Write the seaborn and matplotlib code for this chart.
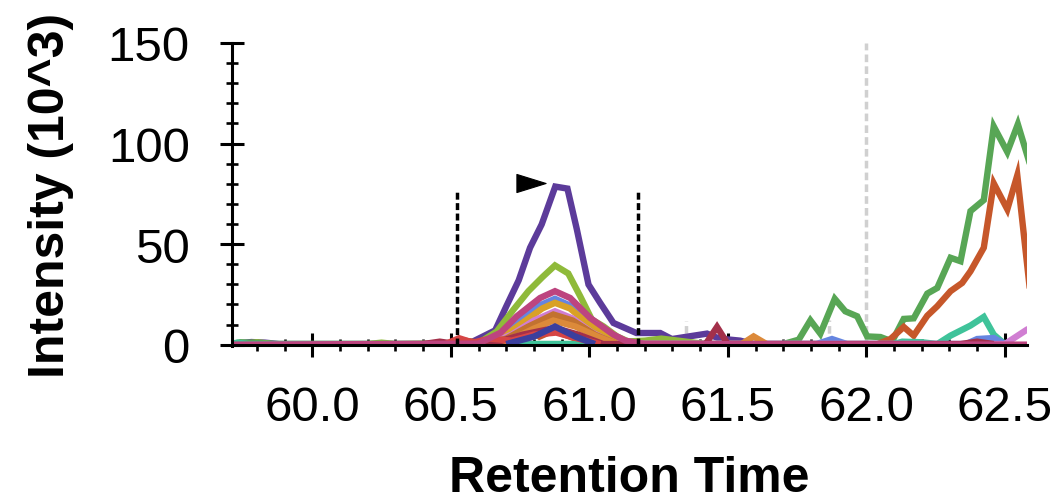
import numpy as np
import pandas as pd
import matplotlib
matplotlib.use("Agg")
import matplotlib.pyplot as plt
import seaborn as sns
from matplotlib.path import Path
from matplotlib.transforms import ScaledTranslation
from matplotlib.ticker import MultipleLocator, FormatStrFormatter

# ---------------- data (retention time in min, intensity in 10^3) ----------------
purple_t = [59.71, 59.78, 59.83, 59.88, 60.52, 60.58, 60.66, 60.70, 60.745, 60.786, 60.828, 60.877,
            60.921, 60.955, 60.997, 61.039, 61.087, 61.17, 61.256, 61.298, 61.425, 61.47, 61.545, 61.59]
purple_v = [0.3, 1.3, 1.0, 0.3, 0.3, 1.6, 7.1, 19.0, 32.0, 48.2, 59.8, 78.6,
            77.6, 57.3, 29.9, 20.8, 10.8, 5.8, 5.8, 2.8, 5.5, 3.0, 2.0, 0.3]

ygreen_t = [59.74, 59.80, 59.86, 60.20, 60.25, 60.30, 60.60, 60.666, 60.726, 60.78, 60.83, 60.876,
            60.924, 60.967, 61.009, 61.051, 61.10, 61.14, 61.20, 61.26, 61.32, 61.42]
ygreen_v = [0.3, 1.2, 0.3, 0.3, 1.0, 0.3, 0.8, 6.6, 17.4, 26.6, 33.5, 39.4,
            35.4, 24.1, 12.5, 9.1, 4.1, 1.6, 2.0, 3.0, 2.0, 0.3]

blue_t = [60.58, 60.66, 60.74, 60.82, 60.876, 60.93, 61.00, 61.08, 61.14, 61.82, 61.876, 61.93,
          62.36, 62.40, 62.46, 62.50]
blue_v = [0.3, 3.5, 11.0, 19.5, 22.8, 19.5, 10.0, 3.5, 0.3, 0.3, 2.8, 0.3,
          0.3, 2.8, 3.3, 0.3]

gold_t = [60.62, 60.70, 60.76, 60.83, 60.876, 60.93, 61.00, 61.08, 61.14]
gold_v = [0.3, 5.0, 11.0, 18.0, 20.8, 18.0, 10.0, 3.0, 0.3]

orchid_t = [60.64, 60.72, 60.80, 60.876, 60.94, 61.01, 61.09, 62.50, 62.58, 62.62]
orchid_v = [0.3, 5.0, 12.0, 16.6, 13.0, 6.0, 0.5, 0.3, 7.5, 10.0]

brown_t = [60.62, 60.70, 60.78, 60.87, 60.94, 61.02, 61.10]
brown_v = [0.3, 3.0, 9.0, 15.0, 12.0, 5.0, 0.3]

orange_t = [60.66, 60.74, 60.80, 60.87, 60.95, 61.03, 61.10, 61.55, 61.593, 61.64]
orange_v = [0.3, 4.0, 8.0, 12.0, 9.0, 4.0, 0.3, 0.3, 4.1, 0.3]

ored_t = [60.50, 60.55, 60.60, 60.70, 60.78, 60.82, 60.87, 60.93, 61.00, 62.04, 62.087, 62.135,
          62.171, 62.22, 62.256, 62.304, 62.346, 62.376, 62.424, 62.46, 62.509, 62.545, 62.59]
ored_v = [0.3, 2.0, 1.0, 4.0, 8.5, 4.0, 7.0, 4.0, 0.3, 0.3, 2.8, 8.8,
          4.5, 14.4, 19.1, 26.6, 30.7, 36.5, 48.2, 80.2, 67.3, 84.2, 28.0]

green_t = [59.71, 59.74, 59.80, 59.86, 61.70, 61.756, 61.798, 61.834, 61.886, 61.924, 61.967, 62.003,
           62.051, 62.093, 62.135, 62.171, 62.22, 62.256, 62.304, 62.34, 62.376, 62.424, 62.46,
           62.509, 62.547, 62.59]
green_v = [0.3, 1.2, 0.8, 0.3, 0.3, 2.5, 12.1, 5.5, 22.8, 16.6, 14.1, 4.1,
           3.8, 1.6, 12.8, 13.1, 25.4, 28.2, 43.2, 41.5, 66.4, 71.9, 108.5,
           95.8, 109.6, 90.0]

teal_t = [59.70, 59.73, 59.77, 62.10, 62.13, 62.20, 62.256, 62.304, 62.376, 62.424, 62.46, 62.50]
teal_v = [0.3, 1.0, 0.3, 0.3, 1.5, 1.2, 0.3, 4.5, 9.5, 13.8, 5.0, 0.3]

dred_t = [60.40, 60.46, 60.52, 60.66, 60.76, 60.876, 60.96, 61.05, 61.42, 61.461, 61.50, 62.34, 62.40, 62.46]
dred_v = [0.3, 1.5, 0.3, 1.0, 5.0, 8.3, 5.0, 0.3, 0.3, 8.8, 0.3, 0.3, 1.5, 0.3]

red_t = [60.48, 60.53, 60.58, 60.64, 60.72, 60.80, 60.88, 60.96, 61.04]
red_v = [0.3, 3.2, 1.0, 3.0, 2.0, 5.0, 6.0, 3.0, 0.3]

indigo_t = [60.70, 60.80, 60.876, 60.95, 61.02]
indigo_v = [0.3, 4.0, 9.0, 4.0, 0.3]

magenta_t = [59.70, 60.60, 60.68, 60.738, 60.822, 60.876, 60.931, 61.003, 61.087, 61.13, 61.20, 62.60]
magenta_v = [0.0, 0.5, 6.0, 14.1, 23.2, 26.6, 23.2, 13.3, 5.0, 2.0, 0.3, 0.0]

series_names = ["purple", "ygreen", "green", "ored", "teal", "blue", "gold", "orchid",
                "brown", "orange", "dred", "red", "indigo", "magenta"]
series_times = [purple_t, ygreen_t, green_t, ored_t, teal_t, blue_t, gold_t, orchid_t,
                brown_t, orange_t, dred_t, red_t, indigo_t, magenta_t]
series_vals = [purple_v, ygreen_v, green_v, ored_v, teal_v, blue_v, gold_v, orchid_v,
               brown_v, orange_v, dred_v, red_v, indigo_v, magenta_v]
series_colors = ["#5c3b9a", "#8fba3a", "#58a655", "#c6572a", "#3fc39a", "#6585e0", "#d9a126",
                 "#d07ed2", "#c27230", "#dc8a3a", "#a3304a", "#d64545", "#3b3f9e", "#bd447f"]

# integration boundaries (black) and other peak boundaries (grey)
boundary_times = [60.523, 61.174]
boundary_height = 77.6
grey_times = [61.349, 61.867, 62.0]
grey_heights = [12.0, 12.4, 150.0]

x_ticks = [60.0, 60.5, 61.0, 61.5, 62.0, 62.5]
y_ticks = [0, 50, 100, 150]

# ---------------- build table ----------------
rows = []
for name, ts, vs in zip(series_names, series_times, series_vals):
    for t, v in zip(ts, vs):
        rows.append((name, t, v))
df = pd.DataFrame(rows, columns=["transition", "time", "intensity"])
palette = dict(zip(series_names, series_colors))

sns.set_theme(style="ticks")
plt.rcParams["font.family"] = ["Liberation Sans", "DejaVu Sans"]

LW = 4.6
fig = plt.figure(figsize=(10.6, 5.02), dpi=100)
ax = fig.add_axes([0.2186, 0.3082, 0.75, 0.6042])

sns.lineplot(data=df, x="time", y="intensity", hue="transition", hue_order=series_names,
             palette=palette, legend=False, estimator=None, sort=False, ax=ax)
for ln in list(ax.get_lines()):
    ln.set_linewidth(LW)
    ln.set_solid_joinstyle("miter")
    ln.set_solid_capstyle("butt")

for tb in boundary_times:
    ax.plot([tb, tb], [0, boundary_height], color="black", linewidth=2.5,
            dashes=(2.0, 1.0), zorder=4)
for tg, hg in zip(grey_times, grey_heights):
    ax.plot([tg, tg], [0, hg], color="#d0d0d0", linewidth=2.5,
            dashes=(2.2, 1.2), zorder=1.5)

# apex marker (right-pointing triangle) next to the highest peak
apex_i = int(np.argmax(purple_v))
tri = Path([(-1.0, 0.62), (1.0, 0.0), (-1.0, -0.62), (-1.0, 0.62)],
           [Path.MOVETO, Path.LINETO, Path.LINETO, Path.CLOSEPOLY])
off = ScaledTranslation(-24.5 / 100, 3.8 / 100, fig.dpi_scale_trans)
ax.plot([purple_t[apex_i]], [purple_v[apex_i]], marker=tri, markersize=21, color="black",
        markeredgewidth=0.8, linestyle="none", transform=ax.transData + off, zorder=5)

ax.set_xlim(59.709, 62.579)
ax.set_ylim(-0.8, 150)
ax.spines["bottom"].set_position(("data", 0))
ax.spines["top"].set_visible(False)
ax.spines["right"].set_visible(False)
for s in ("left", "bottom"):
    ax.spines[s].set_linewidth(2.2)
    ax.spines[s].set_color("black")
    ax.spines[s].set_zorder(3)

ax.set_xticks(x_ticks)
ax.set_yticks(y_ticks)
ax.xaxis.set_major_formatter(FormatStrFormatter("%.1f"))
ax.xaxis.set_minor_locator(MultipleLocator(0.1))
ax.yaxis.set_minor_locator(MultipleLocator(10))
ax.tick_params(axis="x", which="major", direction="inout", length=17.3, width=2.2,
               labelsize=35.5, pad=20.4, color="black", labelcolor="black")
ax.tick_params(axis="y", which="major", direction="inout", length=17.3, width=2.2,
               labelsize=35.5, pad=21.5, color="black", labelcolor="black")
ax.tick_params(axis="both", which="minor", direction="inout", length=8.8, width=1.9,
               color="black")

ax.set_xlabel("Retention Time", fontsize=36, fontweight="bold", labelpad=18.0, color="black")
ax.set_ylabel("Intensity (10^3)", fontsize=36, fontweight="bold", labelpad=24, color="black")
ax.grid(False)
ax.set_facecolor("white")
fig.patch.set_facecolor("white")

fig.savefig("out.png", dpi=100)
